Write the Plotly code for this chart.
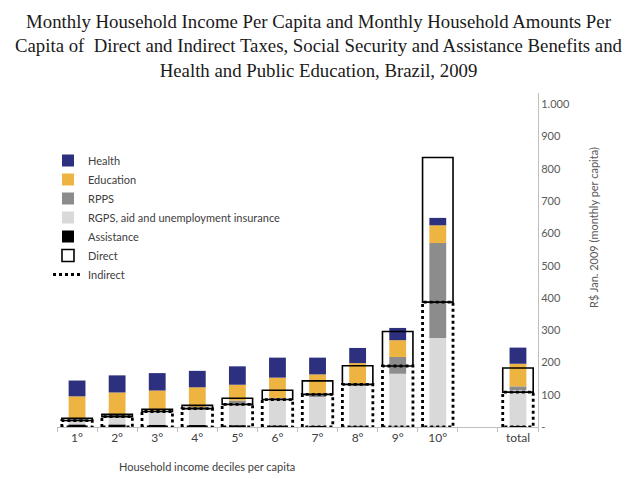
import plotly.graph_objects as go

# ---- data (R$ Jan. 2009, monthly per capita) ----
categories = ["1°", "2°", "3°", "4°", "5°", "6°", "7°", "8°", "9°", "10°", "total"]
positions = [1, 2, 3, 4, 5, 6, 7, 8, 9, 10, 12]
assistance = [8, 8, 7, 6, 5, 4, 3, 2, 1, 1, 3]
rgps = [15, 28, 40, 52, 72, 80, 92, 126, 164, 275, 111]
rpps = [2, 2, 3, 4, 5, 6, 6, 6, 52, 294, 12]
education = [70, 69, 63, 61, 49, 63, 62, 64, 52, 55, 70]
health = [49, 53, 54, 51, 57, 62, 52, 47, 38, 23, 50]
indirect = [20, 32, 48, 57, 70, 85, 101, 132, 189, 387, 108]
direct = [7, 7, 7, 10, 19, 29, 42, 58, 107, 448, 75]

ytick_vals = [0, 100, 200, 300, 400, 500, 600, 700, 800, 900, 1000]
ytick_text = ["-", "100", "200", "300", "400", "500", "600", "700", "800", "900", "1.000"]

FONT = "Lato"
BAR_W = 0.42
BOX_W = 0.76
W, H = 638, 479
ML, MR, MT, MB = 57, 100, 93, 52

fig = go.Figure()

# stacked benefits (bottom to top)
series = [
    ("Assistance", assistance, "#000000", 5),
    ("RGPS, aid and unemployment insurance", rgps, "#D9D9D9", 4),
    ("RPPS", rpps, "#8C8C8C", 3),
    ("Education", education, "#EDB441", 2),
    ("Health", health, "#2D2F7F", 1),
]
base = [0] * len(positions)
for name, vals, color, rank in series:
    fig.add_trace(go.Bar(
        x=positions, y=vals, base=list(base), width=BAR_W, name=name,
        marker=dict(color=color, line=dict(width=0)), legendrank=rank,
    ))
    base = [b + v for b, v in zip(base, vals)]

# direct taxes: solid box on top of indirect taxes
fig.add_trace(go.Bar(
    x=positions, y=direct, base=indirect, width=BOX_W, name="Direct",
    marker=dict(color="rgba(0,0,0,0)", line=dict(color="#000000", width=1.6)),
    legendrank=6,
))

# indirect taxes: dotted box from zero
bx, by = [], []
for p, v in zip(positions, indirect):
    l, r = p - BOX_W / 2, p + BOX_W / 2
    bx += [l, l, r, r, l, None]
    by += [0, v, v, 0, 0, None]
fig.add_trace(go.Scatter(
    x=bx, y=by, mode="lines", name="Indirect",
    line=dict(color="#000000", width=2.8, dash="dot"), legendrank=7,
))

pw, ph = W - ML - MR, H - MT - MB
def px(xp):
    return (xp - ML) / pw
def py(yp):
    return (H - MB - yp) / ph

fig.update_layout(
    width=W, height=H,
    margin=dict(l=ML, r=MR, t=MT, b=MB),
    paper_bgcolor="white", plot_bgcolor="white",
    barmode="overlay",
    font=dict(family=FONT, size=11, color="#404040"),
    showlegend=True,
    legend=dict(
        x=px(48), y=py(146), xanchor="left", yanchor="top",
        bgcolor="rgba(0,0,0,0)", font=dict(family=FONT, size=11, color="#404040"),
        tracegroupgap=0, itemwidth=30,
    ),
    xaxis=dict(
        range=[0.5, 12.5], tickmode="array", tickvals=positions, ticktext=categories,
        showline=True, linecolor="#BFBFBF", linewidth=1, ticks="", showgrid=False,
        zeroline=False, tickfont=dict(family=FONT, size=12, color="#404040"),
        minor=dict(tickmode="linear", tick0=0.5, dtick=1, ticks="outside",
                   ticklen=4, tickcolor="#BFBFBF"),
    ),
    yaxis=dict(
        side="right", range=[0, 1035], tickmode="array", tickvals=ytick_vals,
        ticktext=ytick_text, showline=True, linecolor="#BFBFBF", linewidth=1,
        showgrid=False, zeroline=False, ticks="",
        tickfont=dict(family=FONT, size=11, color="#595959"),
    ),
    annotations=[
        dict(text="Monthly Household Income Per Capita and Monthly Household Amounts Per<br>"
                  "Capita of  Direct and Indirect Taxes, Social Security and Assistance Benefits and<br>"
                  "Health and Public Education, Brazil, 2009",
             x=px(319), y=py(9), xref="paper", yref="paper", xanchor="center",
             yanchor="top", showarrow=False, align="center",
             font=dict(family="Liberation Serif", size=18.8, color="#1a1a1a")),
        dict(text="Household income deciles per capita", x=px(207), y=py(466),
             xref="paper", yref="paper", xanchor="center", yanchor="middle",
             showarrow=False, font=dict(family=FONT, size=11, color="#404040")),
        dict(text="R$ Jan. 2009 (monthly per capita)", textangle=-90,
             x=px(593), y=py(228), xref="paper", yref="paper",
             xanchor="center", yanchor="middle",
             showarrow=False, font=dict(family=FONT, size=11, color="#595959")),
    ],
)

fig.write_html("out.html", config={"displayModeBar": False},
               post_script="document.body.style.margin='0';")
